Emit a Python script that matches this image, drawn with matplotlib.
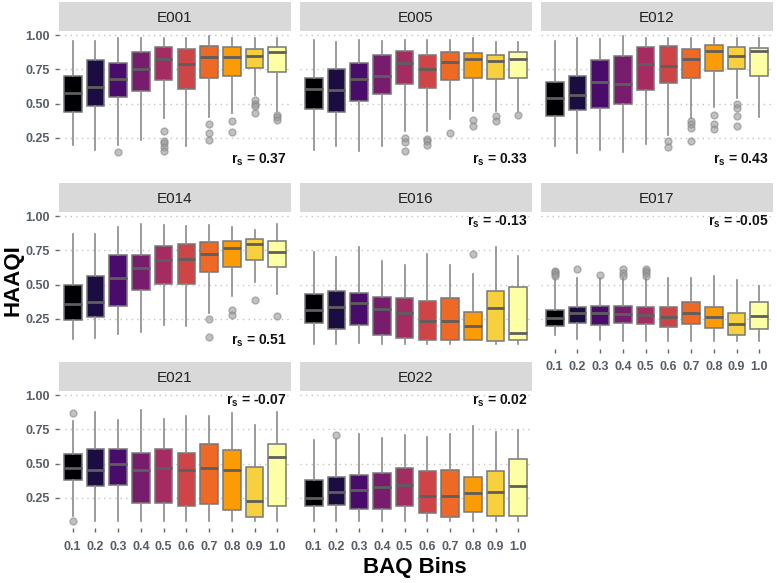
import numpy as np
import matplotlib.pyplot as plt

plt.rcParams['font.family'] = ['Liberation Sans', 'DejaVu Sans']
plt.rcParams['mathtext.fontset'] = 'custom'
plt.rcParams['mathtext.bf'] = 'Liberation Sans:bold'
plt.rcParams['mathtext.rm'] = 'Liberation Sans'

bins = ['0.1', '0.2', '0.3', '0.4', '0.5', '0.6', '0.7', '0.8', '0.9', '1.0']
panels = ['E001', 'E005', 'E012', 'E014', 'E016', 'E017', 'E021', 'E022']
rs = ['0.37', '0.33', '0.43', '0.51', '-0.13', '-0.05', '-0.07', '0.02']

# box stats per panel: whisker low, q1, median, q3, whisker high, outliers
E001_lo = [0.20, 0.165, 0.20, 0.237, 0.395, 0.19, 0.40, 0.43, 0.56, 0.443]
E001_q1 = [0.436, 0.485, 0.547, 0.593, 0.673, 0.61, 0.69, 0.70, 0.758, 0.73]
E001_med = [0.58, 0.62, 0.68, 0.75, 0.826, 0.787, 0.84, 0.84, 0.85, 0.874]
E001_q3 = [0.70, 0.816, 0.80, 0.88, 0.915, 0.90, 0.923, 0.913, 0.90, 0.915]
E001_hi = [0.956, 0.956, 0.98, 0.98, 0.98, 0.98, 0.99, 0.98, 0.976, 0.98]
E001_out = [[], [], [0.15], [], [0.30, 0.225, 0.21, 0.18, 0.153], [],
            [0.35, 0.286, 0.237], [0.37, 0.293], [0.53, 0.50, 0.48, 0.43],
            [0.42, 0.40, 0.38]]

E005_lo = [0.165, 0.19, 0.157, 0.19, 0.30, 0.298, 0.39, 0.443, 0.448, 0.448]
E005_q1 = [0.46, 0.436, 0.516, 0.57, 0.646, 0.617, 0.673, 0.685, 0.68, 0.685]
E005_med = [0.605, 0.596, 0.678, 0.70, 0.80, 0.755, 0.806, 0.826, 0.81, 0.826]
E005_q3 = [0.69, 0.75, 0.80, 0.855, 0.886, 0.855, 0.88, 0.872, 0.855, 0.874]
E005_hi = [0.964, 0.95, 0.964, 0.96, 0.964, 0.964, 0.964, 0.976, 0.947, 0.947]
E005_out = [[], [], [], [], [0.25, 0.218, 0.157], [0.245, 0.225, 0.20],
            [0.286], [0.38, 0.34], [0.41, 0.37], [0.414]]

E012_lo = [0.19, 0.14, 0.165, 0.148, 0.208, 0.27, 0.395, 0.472, 0.54, 0.40]
E012_q1 = [0.41, 0.45, 0.467, 0.496, 0.60, 0.65, 0.69, 0.738, 0.753, 0.705]
E012_med = [0.54, 0.564, 0.66, 0.644, 0.787, 0.775, 0.826, 0.884, 0.85, 0.884]
E012_q3 = [0.656, 0.705, 0.816, 0.847, 0.915, 0.923, 0.90, 0.927, 0.915, 0.908]
E012_hi = [0.956, 0.98, 0.97, 0.993, 0.98, 0.98, 0.98, 0.98, 0.98, 0.98]
E012_out = [[], [], [], [], [], [0.225, 0.184], [0.37, 0.35, 0.32, 0.23],
            [0.42, 0.35, 0.317], [0.496, 0.47, 0.407, 0.34], []]

E014_lo = [0.10, 0.11, 0.143, 0.155, 0.207, 0.198, 0.293, 0.417, 0.517, 0.43]
E014_q1 = [0.245, 0.26, 0.345, 0.464, 0.505, 0.505, 0.59, 0.626, 0.68, 0.63]
E014_med = [0.357, 0.376, 0.548, 0.62, 0.68, 0.69, 0.72, 0.767, 0.793, 0.738]
E014_q3 = [0.495, 0.56, 0.714, 0.714, 0.78, 0.80, 0.81, 0.82, 0.833, 0.817]
E014_hi = [0.87, 0.87, 0.917, 0.94, 0.936, 0.93, 0.936, 0.917, 0.898, 0.94]
E014_out = [[], [], [], [], [], [], [0.25, 0.12], [0.317, 0.28], [0.388], [0.274]]

E016_lo = [0.067, 0.067, 0.076, 0.067, 0.067, 0.067, 0.07, 0.095, 0.07, 0.067]
E016_q1 = [0.22, 0.174, 0.207, 0.131, 0.112, 0.095, 0.095, 0.095, 0.088, 0.095]
E016_med = [0.314, 0.34, 0.364, 0.32, 0.293, 0.238, 0.233, 0.198, 0.326, 0.148]
E016_q3 = [0.43, 0.455, 0.44, 0.412, 0.405, 0.38, 0.405, 0.30, 0.457, 0.483]
E016_hi = [0.738, 0.70, 0.774, 0.674, 0.643, 0.72, 0.643, 0.58, 0.774, 0.707]
E016_out = [[], [], [], [], [], [], [], [0.72], [], []]

E017_lo = [0.13, 0.105, 0.095, 0.088, 0.088, 0.088, 0.088, 0.088, 0.088, 0.088]
E017_q1 = [0.20, 0.217, 0.203, 0.217, 0.21, 0.188, 0.214, 0.181, 0.133, 0.176]
E017_med = [0.255, 0.29, 0.29, 0.283, 0.279, 0.26, 0.29, 0.26, 0.21, 0.274]
E017_q3 = [0.314, 0.338, 0.345, 0.345, 0.338, 0.338, 0.376, 0.338, 0.29, 0.376]
E017_hi = [0.55, 0.545, 0.545, 0.545, 0.545, 0.55, 0.545, 0.56, 0.536, 0.49]
E017_out = [[0.60, 0.59, 0.58, 0.565], [0.617], [0.572], [0.617, 0.585, 0.56],
            [0.617, 0.60, 0.585, 0.56], [], [], [], [], []]

E021_lo = [0.12, 0.08, 0.08, 0.08, 0.08, 0.08, 0.08, 0.08, 0.08, 0.08]
E021_q1 = [0.383, 0.335, 0.342, 0.215, 0.215, 0.187, 0.208, 0.163, 0.108, 0.187]
E021_med = [0.47, 0.455, 0.50, 0.45, 0.466, 0.45, 0.466, 0.45, 0.227, 0.55]
E021_q3 = [0.567, 0.605, 0.605, 0.574, 0.605, 0.58, 0.64, 0.598, 0.474, 0.64]
E021_hi = [0.813, 0.878, 0.82, 0.89, 0.825, 0.845, 0.845, 0.87, 0.782, 0.88]
E021_out = [[0.866, 0.084], [], [], [], [], [], [], [], [], []]

E022_lo = [0.08, 0.08, 0.08, 0.08, 0.08, 0.08, 0.08, 0.08, 0.08, 0.08]
E022_q1 = [0.187, 0.196, 0.172, 0.172, 0.187, 0.136, 0.108, 0.148, 0.12, 0.12]
E022_med = [0.246, 0.294, 0.306, 0.328, 0.347, 0.263, 0.263, 0.282, 0.29, 0.335]
E022_q3 = [0.383, 0.40, 0.414, 0.43, 0.47, 0.443, 0.455, 0.40, 0.443, 0.531]
E022_hi = [0.675, 0.68, 0.718, 0.687, 0.71, 0.694, 0.718, 0.773, 0.73, 0.742]
E022_out = [[], [0.706], [], [], [], [], [], [], [], []]

stats = {
    'E001': (E001_lo, E001_q1, E001_med, E001_q3, E001_hi, E001_out),
    'E005': (E005_lo, E005_q1, E005_med, E005_q3, E005_hi, E005_out),
    'E012': (E012_lo, E012_q1, E012_med, E012_q3, E012_hi, E012_out),
    'E014': (E014_lo, E014_q1, E014_med, E014_q3, E014_hi, E014_out),
    'E016': (E016_lo, E016_q1, E016_med, E016_q3, E016_hi, E016_out),
    'E017': (E017_lo, E017_q1, E017_med, E017_q3, E017_hi, E017_out),
    'E021': (E021_lo, E021_q1, E021_med, E021_q3, E021_hi, E021_out),
    'E022': (E022_lo, E022_q1, E022_med, E022_q3, E022_hi, E022_out),
}

colors = plt.cm.inferno(np.linspace(0, 1, 10))

W, H = 777, 583
fig = plt.figure(figsize=(W / 100, H / 100), dpi=100)

col_left = [59, 300, 541]
row_top = [31, 212, 391]
pw, ph, sh = 232, 137, 29
tick_col = '#555d68'

for i, name in enumerate(panels):
    r, c = divmod(i, 3)
    x0, y0 = col_left[c], row_top[r]
    ax = fig.add_axes([x0 / W, 1 - (y0 + ph) / H, pw / W, ph / H])
    lo, q1, med, q3, hi, out = stats[name]
    bxs = [dict(whislo=lo[k], q1=q1[k], med=med[k], q3=q3[k], whishi=hi[k],
                fliers=out[k]) for k in range(10)]
    bp = ax.bxp(bxs, positions=np.arange(1, 11), widths=0.78, patch_artist=True,
                showcaps=False,
                boxprops=dict(edgecolor='#777777', linewidth=1.1),
                medianprops=dict(color='#5e5e5e', linewidth=2),
                whiskerprops=dict(color='#8a8a8a', linewidth=1.2),
                flierprops=dict(marker='o', markersize=5, markerfacecolor='#999999',
                                markeredgecolor='#888888', alpha=0.6))
    for patch, col in zip(bp['boxes'], colors):
        patch.set_facecolor(col)
    ax.set_xlim(0.4, 10.6)
    ax.set_ylim(0.03, 1.03)
    ax.set_yticks([0.25, 0.5, 0.75, 1.0])
    ax.yaxis.grid(True, linestyle=(0, (1, 3)), color='#c4c4c4', linewidth=1)
    ax.set_axisbelow(True)
    for s in ax.spines.values():
        s.set_visible(False)
    ax.tick_params(colors='#666666', labelcolor=tick_col, length=3, width=1)
    show_x = (r == 2) or (r == 1 and c == 2)
    ax.set_xticks(np.arange(1, 11))
    if show_x:
        ax.set_xticklabels(bins, fontsize=9, fontweight='bold')
        ax.tick_params(axis='x', pad=6)
    else:
        ax.tick_params(axis='x', length=0, labelbottom=False)
    if c == 0:
        ax.set_yticklabels(['0.25', '0.50', '0.75', '1.00'], fontsize=9,
                           fontweight='bold')
    else:
        ax.tick_params(axis='y', length=0, labelleft=False)

    label = r'$\mathbf{r_s}$ = ' + rs[i]
    ytxt = 0.09 if i < 4 else 0.955
    ax.text(10.4, ytxt, label, ha='right', va='center', fontsize=10,
            fontweight='bold', color='#111111')

    sax = fig.add_axes([x0 / W, 1 - y0 / H, pw / W, sh / H])
    sax.set_facecolor('#d9d9d9')
    sax.set_xticks([])
    sax.set_yticks([])
    for s in sax.spines.values():
        s.set_visible(False)
    sax.text(0.5, 0.45, name, ha='center', va='center', fontsize=11,
             color='#222222', transform=sax.transAxes)

fig.text(13 / W, 1 - 280 / H, 'HAAQI', rotation=90, ha='center', va='center',
         fontsize=16, fontweight='bold')
fig.text(415 / W, 1 - 567 / H, 'BAQ Bins', ha='center', va='center',
         fontsize=16, fontweight='bold')

fig.savefig('out.png', dpi=100, facecolor='white')
